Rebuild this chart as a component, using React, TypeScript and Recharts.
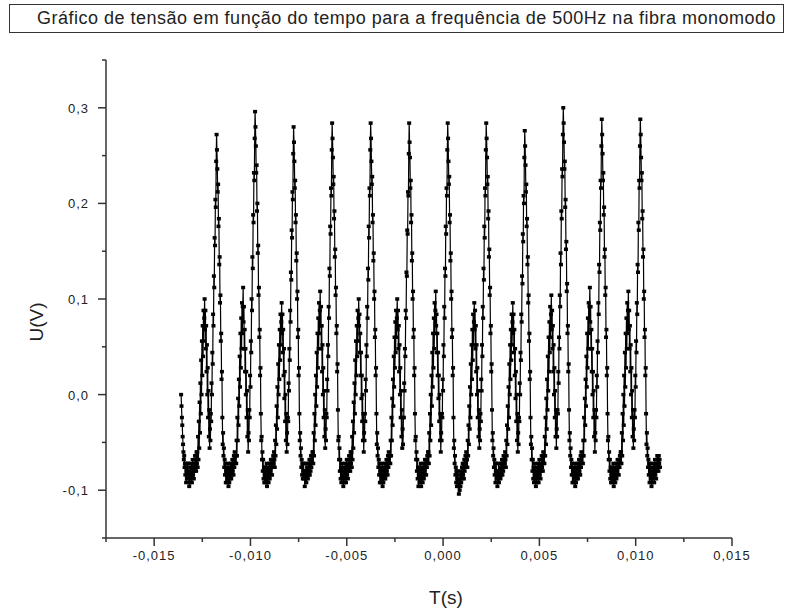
import { LineChart, Line, XAxis, YAxis } from 'recharts'

// oscilloscope record: one sample every 20 µs starting at T0
const T0 = -0.0136
const DT = 0.00002

const startU = [
  0.0, -0.012, -0.024, -0.032, -0.044, -0.052, -0.06, -0.068, -0.064, -0.076, -0.072, -0.084, -0.076, -0.092,
  -0.08, -0.088, -0.072, -0.084,
]

const period1 = [
  -0.072, -0.088, -0.08, -0.096, -0.084, -0.092, -0.076, -0.088, -0.072, -0.084, -0.092, -0.08, -0.068, -0.084,
  -0.076, -0.088, -0.072, -0.08, -0.064, -0.076, -0.068, -0.08, -0.06, -0.072,
  -0.06, -0.076, -0.044, -0.068, -0.028, -0.056, -0.008, -0.04, 0.012, -0.02, 0.036, 0.0, 0.056, 0.02, 0.072, 0.04,
  0.088, 0.056, 0.08, 0.1,
  0.068, 0.088, 0.048, 0.072, 0.024, 0.052, 0.0, 0.028, -0.024, 0.004, -0.044, -0.016, -0.056, -0.036,
  -0.048, -0.02, -0.028, 0.012, 0.0, 0.044, 0.032, 0.084, 0.072, 0.124, 0.112, 0.164, 0.156, 0.204, 0.196, 0.244, 0.272,
  0.256, 0.236, 0.212, 0.22, 0.176, 0.184, 0.136, 0.144, 0.096, 0.104, 0.056, 0.064, 0.016, 0.024, -0.024, -0.052,
  -0.04, -0.064, -0.056, -0.076, -0.068, -0.084, -0.072, -0.092, -0.08,
]
const period2 = [
  -0.076, -0.092, -0.084, -0.088, -0.072, -0.096, -0.08, -0.092, -0.076, -0.088, -0.08, -0.072, -0.088, -0.076,
  -0.084, -0.068, -0.08, -0.072, -0.084, -0.064, -0.076, -0.06, -0.072, -0.064,
  -0.064, -0.072, -0.048, -0.064, -0.024, -0.048, -0.004, -0.032, 0.016, -0.012, 0.04, 0.008, 0.064, 0.028, 0.08, 0.048,
  0.096, 0.064, 0.092, 0.112,
  0.076, 0.092, 0.048, 0.068, 0.024, 0.048, 0.0, 0.024, -0.024, 0.004, -0.044, -0.016, -0.06, -0.04,
  -0.048, -0.016, -0.024, 0.02, 0.008, 0.056, 0.044, 0.1, 0.088, 0.144, 0.132, 0.188, 0.18, 0.232, 0.224, 0.268, 0.296,
  0.28, 0.26, 0.232, 0.24, 0.192, 0.2, 0.148, 0.156, 0.104, 0.112, 0.06, 0.068, 0.02, 0.028, -0.02, -0.048,
  -0.044, -0.068, -0.06, -0.08, -0.068, -0.088, -0.076, -0.092, -0.084,
]
const period3 = [
  -0.076, -0.092, -0.08, -0.088, -0.072, -0.096, -0.084, -0.088, -0.076, -0.092, -0.08, -0.072, -0.088, -0.08,
  -0.084, -0.068, -0.076, -0.072, -0.084, -0.068, -0.076, -0.064, -0.072, -0.06,
  -0.068, -0.076, -0.048, -0.064, -0.032, -0.052, -0.012, -0.036, 0.008, -0.024, 0.032, 0.0, 0.052, 0.016, 0.068, 0.036,
  0.084, 0.052, 0.076, 0.096,
  0.064, 0.084, 0.044, 0.068, 0.02, 0.048, -0.004, 0.024, -0.028, 0.0, -0.048, -0.02, -0.06, -0.04,
  -0.052, -0.024, -0.028, 0.012, 0.004, 0.048, 0.036, 0.088, 0.076, 0.128, 0.12, 0.172, 0.164, 0.212, 0.204, 0.252, 0.28,
  0.264, 0.244, 0.216, 0.224, 0.18, 0.188, 0.14, 0.148, 0.1, 0.108, 0.06, 0.068, 0.02, 0.028, -0.02, -0.048,
  -0.04, -0.064, -0.056, -0.076, -0.068, -0.084, -0.072, -0.088, -0.08,
]
const period4 = [
  -0.072, -0.088, -0.08, -0.096, -0.084, -0.088, -0.072, -0.092, -0.08, -0.084, -0.076, -0.088, -0.072, -0.084,
  -0.08, -0.068, -0.084, -0.072, -0.08, -0.064, -0.076, -0.068, -0.072, -0.06,
  -0.06, -0.072, -0.04, -0.064, -0.02, -0.048, 0.0, -0.032, 0.02, -0.012, 0.044, 0.008, 0.064, 0.028, 0.08, 0.048,
  0.096, 0.064, 0.088, 0.108,
  0.072, 0.092, 0.048, 0.072, 0.024, 0.052, 0.0, 0.028, -0.024, 0.004, -0.044, -0.016, -0.056, -0.036,
  -0.048, -0.02, -0.024, 0.016, 0.004, 0.052, 0.04, 0.092, 0.08, 0.132, 0.124, 0.176, 0.168, 0.216, 0.208, 0.256, 0.284,
  0.268, 0.248, 0.22, 0.228, 0.184, 0.192, 0.144, 0.152, 0.104, 0.112, 0.064, 0.072, 0.024, 0.032, -0.016, -0.048,
  -0.044, -0.068, -0.056, -0.08, -0.068, -0.088, -0.076, -0.092, -0.08,
]
const period5 = [
  -0.072, -0.088, -0.08, -0.096, -0.084, -0.092, -0.076, -0.088, -0.072, -0.084, -0.092, -0.08, -0.068, -0.084,
  -0.076, -0.088, -0.072, -0.08, -0.064, -0.076, -0.068, -0.08, -0.06, -0.072,
  -0.06, -0.076, -0.044, -0.068, -0.028, -0.056, -0.008, -0.04, 0.012, -0.02, 0.036, 0.0, 0.056, 0.02, 0.072, 0.04,
  0.088, 0.056, 0.08, 0.1,
  0.072, 0.084, 0.044, 0.064, 0.02, 0.044, -0.004, 0.02, -0.028, 0.0, -0.048, -0.02, -0.06, -0.04,
  -0.048, -0.02, -0.028, 0.016, 0.004, 0.052, 0.04, 0.092, 0.08, 0.132, 0.12, 0.176, 0.164, 0.216, 0.208, 0.256, 0.284,
  0.268, 0.244, 0.22, 0.228, 0.18, 0.188, 0.14, 0.148, 0.1, 0.108, 0.06, 0.068, 0.02, 0.028, -0.02, -0.052,
  -0.04, -0.064, -0.056, -0.076, -0.068, -0.084, -0.072, -0.092, -0.08,
]
const period6 = [
  -0.076, -0.092, -0.084, -0.088, -0.072, -0.096, -0.08, -0.092, -0.076, -0.088, -0.08, -0.072, -0.088, -0.076,
  -0.084, -0.068, -0.08, -0.072, -0.084, -0.064, -0.076, -0.06, -0.072, -0.064,
  -0.064, -0.072, -0.048, -0.064, -0.024, -0.048, -0.004, -0.032, 0.016, -0.012, 0.04, 0.008, 0.06, 0.028, 0.076, 0.044,
  0.088, 0.06, 0.08, 0.1,
  0.068, 0.088, 0.048, 0.072, 0.024, 0.052, 0.0, 0.028, -0.024, 0.004, -0.044, -0.016, -0.056, -0.036,
  -0.052, -0.024, -0.024, 0.012, 0.004, 0.048, 0.04, 0.088, 0.08, 0.128, 0.124, 0.172, 0.168, 0.212, 0.208, 0.252, 0.284,
  0.264, 0.248, 0.216, 0.224, 0.18, 0.188, 0.14, 0.148, 0.1, 0.108, 0.06, 0.068, 0.02, 0.028, -0.02, -0.048,
  -0.044, -0.068, -0.06, -0.08, -0.068, -0.088, -0.076, -0.096, -0.084,
]
const period7 = [
  -0.076, -0.092, -0.08, -0.088, -0.072, -0.096, -0.084, -0.088, -0.076, -0.092, -0.08, -0.072, -0.088, -0.08,
  -0.084, -0.068, -0.076, -0.072, -0.084, -0.068, -0.076, -0.064, -0.072, -0.06,
  -0.06, -0.072, -0.04, -0.064, -0.02, -0.048, 0.0, -0.032, 0.02, -0.012, 0.044, 0.008, 0.064, 0.028, 0.08, 0.048,
  0.096, 0.064, 0.088, 0.108,
  0.072, 0.084, 0.044, 0.064, 0.02, 0.044, -0.004, 0.02, -0.028, 0.0, -0.048, -0.02, -0.06, -0.04,
  -0.048, -0.02, -0.024, 0.016, 0.004, 0.052, 0.04, 0.092, 0.08, 0.132, 0.124, 0.176, 0.168, 0.216, 0.208, 0.256, 0.284,
  0.268, 0.244, 0.22, 0.228, 0.18, 0.188, 0.14, 0.148, 0.1, 0.108, 0.06, 0.068, 0.02, 0.028, -0.024, -0.056,
  -0.048, -0.072, -0.064, -0.084, -0.076, -0.092, -0.08, -0.096, -0.088,
]
const period8 = [
  -0.08, -0.096, -0.088, -0.104, -0.092, -0.1, -0.084, -0.096, -0.08, -0.092, -0.084, -0.076, -0.088, -0.072,
  -0.084, -0.076, -0.088, -0.068, -0.08, -0.072, -0.064, -0.076, -0.06, -0.068,
  -0.068, -0.076, -0.048, -0.064, -0.032, -0.052, -0.012, -0.036, 0.008, -0.024, 0.032, 0.0, 0.052, 0.016, 0.068, 0.036,
  0.084, 0.052, 0.076, 0.096,
  0.068, 0.088, 0.048, 0.072, 0.024, 0.052, 0.0, 0.028, -0.024, 0.004, -0.044, -0.016, -0.056, -0.036,
  -0.048, -0.02, -0.028, 0.016, 0.004, 0.052, 0.04, 0.092, 0.08, 0.132, 0.12, 0.176, 0.164, 0.216, 0.208, 0.256, 0.284,
  0.268, 0.248, 0.22, 0.228, 0.184, 0.192, 0.144, 0.152, 0.104, 0.112, 0.064, 0.072, 0.024, 0.032, -0.016, -0.048,
  -0.04, -0.064, -0.056, -0.076, -0.068, -0.084, -0.072, -0.092, -0.08,
]
const period9 = [
  -0.072, -0.088, -0.08, -0.096, -0.084, -0.088, -0.072, -0.092, -0.08, -0.084, -0.076, -0.088, -0.072, -0.084,
  -0.08, -0.068, -0.084, -0.072, -0.08, -0.064, -0.076, -0.068, -0.072, -0.06,
  -0.068, -0.076, -0.048, -0.064, -0.032, -0.052, -0.012, -0.036, 0.008, -0.024, 0.032, 0.0, 0.052, 0.016, 0.068, 0.036,
  0.084, 0.052, 0.076, 0.096,
  0.064, 0.084, 0.044, 0.068, 0.02, 0.048, -0.004, 0.024, -0.028, 0.0, -0.048, -0.02, -0.06, -0.04,
  -0.052, -0.024, -0.028, 0.012, 0.0, 0.044, 0.036, 0.084, 0.076, 0.124, 0.116, 0.168, 0.16, 0.208, 0.2, 0.248, 0.276,
  0.26, 0.24, 0.212, 0.22, 0.176, 0.184, 0.136, 0.144, 0.096, 0.104, 0.056, 0.064, 0.016, 0.024, -0.024, -0.052,
  -0.044, -0.068, -0.056, -0.08, -0.068, -0.088, -0.076, -0.092, -0.08,
]
const period10 = [
  -0.072, -0.088, -0.08, -0.096, -0.084, -0.092, -0.076, -0.088, -0.072, -0.084, -0.092, -0.08, -0.068, -0.084,
  -0.076, -0.088, -0.072, -0.08, -0.064, -0.076, -0.068, -0.08, -0.06, -0.072,
  -0.064, -0.072, -0.044, -0.064, -0.024, -0.052, -0.004, -0.036, 0.016, -0.016, 0.04, 0.004, 0.06, 0.024, 0.076, 0.044,
  0.092, 0.06, 0.084, 0.104,
  0.068, 0.088, 0.048, 0.072, 0.024, 0.052, 0.0, 0.028, -0.024, 0.004, -0.044, -0.016, -0.056, -0.036,
  -0.044, -0.016, -0.02, 0.024, 0.012, 0.06, 0.048, 0.104, 0.092, 0.148, 0.136, 0.192, 0.184, 0.236, 0.228, 0.272, 0.3,
  0.284, 0.264, 0.236, 0.244, 0.196, 0.204, 0.152, 0.16, 0.108, 0.116, 0.064, 0.072, 0.024, 0.032, -0.016, -0.048,
  -0.04, -0.064, -0.056, -0.076, -0.068, -0.084, -0.072, -0.092, -0.08,
]
const period11 = [
  -0.076, -0.092, -0.084, -0.088, -0.072, -0.096, -0.08, -0.092, -0.076, -0.088, -0.08, -0.072, -0.088, -0.076,
  -0.084, -0.068, -0.08, -0.072, -0.084, -0.064, -0.076, -0.06, -0.072, -0.064,
  -0.064, -0.072, -0.048, -0.064, -0.024, -0.048, -0.004, -0.032, 0.016, -0.012, 0.04, 0.008, 0.064, 0.028, 0.08, 0.048,
  0.096, 0.064, 0.092, 0.112,
  0.076, 0.092, 0.048, 0.068, 0.024, 0.048, 0.0, 0.024, -0.024, 0.004, -0.044, -0.016, -0.06, -0.04,
  -0.048, -0.016, -0.024, 0.02, 0.008, 0.056, 0.044, 0.096, 0.084, 0.136, 0.128, 0.18, 0.172, 0.224, 0.216, 0.26, 0.288,
  0.272, 0.252, 0.224, 0.232, 0.188, 0.196, 0.144, 0.152, 0.104, 0.112, 0.06, 0.068, 0.02, 0.028, -0.02, -0.048,
  -0.044, -0.068, -0.06, -0.08, -0.068, -0.088, -0.076, -0.092, -0.084,
]
const period12 = [
  -0.076, -0.092, -0.08, -0.088, -0.072, -0.096, -0.084, -0.088, -0.076, -0.092, -0.08, -0.072, -0.088, -0.08,
  -0.084, -0.068, -0.076, -0.072, -0.084, -0.068, -0.076, -0.064, -0.072, -0.06,
  -0.06, -0.072, -0.04, -0.064, -0.02, -0.048, 0.0, -0.032, 0.02, -0.012, 0.044, 0.008, 0.064, 0.028, 0.08, 0.048,
  0.096, 0.064, 0.088, 0.108,
  0.068, 0.088, 0.048, 0.072, 0.024, 0.052, 0.0, 0.028, -0.024, 0.004, -0.044, -0.016, -0.056, -0.036,
  -0.048, -0.016, -0.024, 0.02, 0.008, 0.056, 0.044, 0.096, 0.084, 0.136, 0.128, 0.18, 0.172, 0.224, 0.216, 0.26, 0.288,
  0.272, 0.248, 0.224, 0.232, 0.184, 0.192, 0.144, 0.152, 0.1, 0.108, 0.06, 0.068, 0.02, 0.028, -0.02, -0.052,
  -0.04, -0.064, -0.056, -0.076, -0.068, -0.084, -0.072, -0.092, -0.08,
]

const endU = [
  -0.072, -0.088, -0.08, -0.096, -0.084, -0.092, -0.076, -0.088, -0.072, -0.084, -0.092, -0.08, -0.068, -0.084,
  -0.076, -0.088, -0.072, -0.08, -0.064, -0.076, -0.068, -0.08, -0.064, -0.072, -0.068, -0.076,
]

const xTicks = [-0.0175, -0.015, -0.0125, -0.01, -0.0075, -0.005, -0.0025, 0, 0.0025, 0.005, 0.0075, 0.01, 0.0125, 0.015]
const xMajor = [-0.015, -0.01, -0.005, 0, 0.005, 0.01, 0.015]
const xLabels = ['-0,015', '-0,010', '-0,005', '0,000', '0,005', '0,010', '0,015']

const yTicks = [-0.15, -0.1, -0.05, 0, 0.05, 0.1, 0.15, 0.2, 0.25, 0.3, 0.35]
const yMajor = [-0.1, 0, 0.1, 0.2, 0.3]
const yLabels = ['-0,1', '0,0', '0,1', '0,2', '0,3']

const samples = [
  ...startU, ...period1, ...period2, ...period3, ...period4, ...period5, ...period6,
  ...period7, ...period8, ...period9, ...period10, ...period11, ...period12, ...endU,
]
const data = samples.map((u, i) => ({ t: T0 + i * DT, u }))

const FONT = "'Liberation Sans', Arial, sans-serif"
const AXIS = '#333'

function XTick({ x, y, payload }: any) {
  const k = xMajor.indexOf(payload.value)
  return (
    <g>
      <line x1={x} x2={x} y1={y} y2={y + (k >= 0 ? 8 : 4)} stroke={AXIS} strokeWidth={1.5} />
      {k >= 0 && (
        <text x={x} y={y + 22} textAnchor="middle" fontSize={13} letterSpacing={1} fill="#222" fontFamily={FONT}>
          {xLabels[k]}
        </text>
      )}
    </g>
  )
}

function YTick({ x, y, payload }: any) {
  const k = yMajor.indexOf(payload.value)
  return (
    <g>
      <line x1={x} x2={x - (k >= 0 ? 8 : 4)} y1={y} y2={y} stroke={AXIS} strokeWidth={1.5} />
      {k >= 0 && (
        <text x={x - 17} y={y + 5} textAnchor="end" fontSize={13} letterSpacing={1} fill="#222" fontFamily={FONT}>
          {yLabels[k]}
        </text>
      )}
    </g>
  )
}

// Origin-style small filled square marker
function Square({ cx, cy }: any) {
  if (cx == null || cy == null) return null
  return <rect x={cx - 2} y={cy - 1.75} width={4} height={3.5} fill="#000" />
}

export default function App() {
  return (
    <div style={{ position: 'relative', width: 791, height: 613, background: '#fff', fontFamily: FONT }}>
      <style>{'body{margin:0}'}</style>
      <div
        style={{
          position: 'absolute',
          left: 9,
          top: 4,
          width: 775,
          height: 29,
          boxSizing: 'border-box',
          border: '1px solid #333',
          paddingLeft: 20,
          textAlign: 'center',
          lineHeight: '27px',
          fontSize: 18,
          letterSpacing: 0.5,
          color: '#222',
          whiteSpace: 'nowrap',
        }}
      >
        Gráfico de tensão em função do tempo para a frequência de 500Hz na fibra monomodo
      </div>
      <LineChart width={791} height={613} data={data} margin={{ top: 60, right: 59, bottom: 45, left: 56 }}>
        <XAxis
          type="number"
          dataKey="t"
          domain={[-0.0175, 0.015]}
          ticks={xTicks}
          interval={0}
          allowDataOverflow
          height={30}
          tickSize={0}
          tickMargin={0}
          tickLine={false}
          tick={<XTick />}
          axisLine={{ stroke: AXIS, strokeWidth: 1.5 }}
        />
        <YAxis
          type="number"
          dataKey="u"
          domain={[-0.15, 0.35]}
          ticks={yTicks}
          interval={0}
          allowDataOverflow
          width={50}
          tickSize={0}
          tickMargin={0}
          tickLine={false}
          tick={<YTick />}
          axisLine={{ stroke: AXIS, strokeWidth: 1.5 }}
        />
        <Line
          type="linear"
          dataKey="u"
          stroke="#000"
          strokeWidth={1.2}
          dot={<Square />}
          activeDot={false}
          isAnimationActive={false}
        />
      </LineChart>
      <div
        style={{
          position: 'absolute',
          left: 37,
          top: 322,
          transform: 'translate(-50%, -50%) rotate(-90deg)',
          fontSize: 19,
          color: '#222',
          whiteSpace: 'nowrap',
        }}
      >
        U(V)
      </div>
      <div
        style={{
          position: 'absolute',
          left: 446,
          top: 598,
          transform: 'translate(-50%, -50%)',
          fontSize: 19,
          color: '#222',
          whiteSpace: 'nowrap',
        }}
      >
        T(s)
      </div>
    </div>
  )
}
